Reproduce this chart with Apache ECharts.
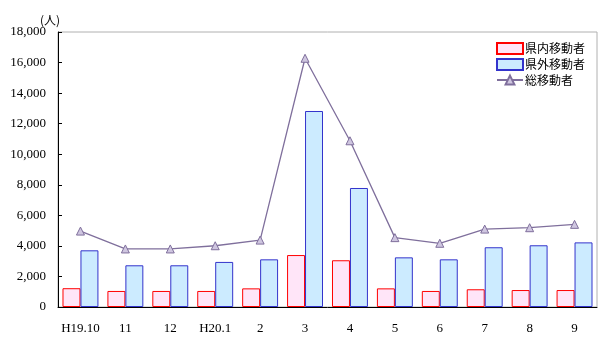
<!DOCTYPE html>
<html><head><meta charset="utf-8">
<script src="https://cdn.jsdelivr.net/npm/echarts@6/dist/echarts.min.js"></script>
<style>html,body{margin:0;padding:0;background:#fff}#c{width:600px;height:344px}</style>
</head><body><div id="c"></div>
<script>
const categories = ['H19.10','11','12','H20.1','2','3','4','5','6','7','8','9'];
const inPref = [1230,1050,1050,1050,1220,3400,3060,1220,1050,1160,1110,1110];
const outPref = [3710,2730,2730,2950,3120,12830,7790,3250,3120,3910,4040,4230];
const total = [4970,3800,3800,4010,4380,16280,10880,4540,4170,5100,5190,5410];
const names = ['県内移動者','県外移動者','総移動者'];
const yTicks = {min:0, max:18000, interval:2000};

const serif = '"Liberation Serif","DejaVu Serif",serif';
const chart = echarts.init(document.getElementById('c'), null, {renderer:'canvas'});
chart.setOption({
  animation:false,
  backgroundColor:'#fff',
  grid:{left:58,right:3,top:32,bottom:37,show:true,borderColor:'#b0b0b0',borderWidth:1},
  legend:{
    right:10, top:37, orient:'vertical', itemGap:3, itemWidth:26, itemHeight:11,
    textStyle:{fontFamily:'"Noto Sans CJK JP",sans-serif',fontSize:12,color:'#000',padding:[0,0,0,-3],lineHeight:12},
    data:[
      {name:names[0], icon:'rect'},
      {name:names[1], icon:'rect'},
      {name:names[2]}
    ]
  },
  graphic:[{type:'text',left:40,top:14,style:{text:'(人)',font:'12px "Noto Sans CJK JP"',fill:'#000'}}],
  xAxis:{
    type:'category', data:categories,
    axisLine:{lineStyle:{color:'#000',width:1}},
    axisTick:{inside:true,length:4,lineStyle:{color:'#000'}},
    axisLabel:{color:'#000',fontFamily:serif,fontSize:13,margin:15,interval:0}
  },
  yAxis:{
    type:'value', min:yTicks.min, max:yTicks.max, interval:yTicks.interval,
    axisLine:{show:true,lineStyle:{color:'#000',width:1}},
    axisTick:{show:true,inside:true,length:4,lineStyle:{color:'#000'}},
    splitLine:{show:false},
    axisLabel:{color:'#000',fontFamily:serif,fontSize:13,margin:12,
      formatter:v=>v.toLocaleString('en-US')}
  },
  series:[
    {name:names[0],type:'bar',data:inPref,barGap:'0%',barCategoryGap:'20%',
     itemStyle:{color:'#FFE5F8',borderColor:'#FF0000',borderWidth:1}},
    {name:names[1],type:'bar',data:outPref,
     itemStyle:{color:'#CCEBFF',borderColor:'#3333CC',borderWidth:1}},
    {name:names[2],type:'line',data:total,symbol:'triangle',symbolSize:8,
     lineStyle:{color:'#7F6F9C',width:1.3},
     itemStyle:{color:'#CFC6E0',borderColor:'#7F6F9C',borderWidth:1}}
  ]
});
</script></body></html>
